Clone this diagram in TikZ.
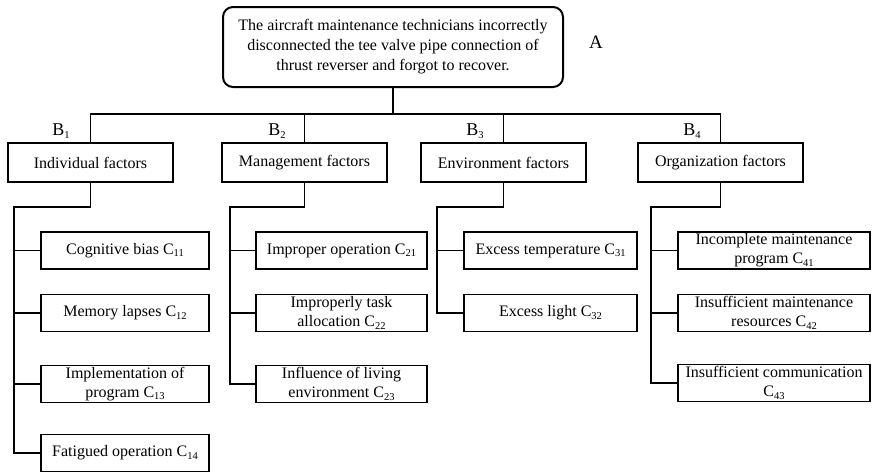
\documentclass[tikz,border=0pt]{standalone}
\usepackage{fontspec}
\setmainfont{Liberation Serif}
\newcommand{\sbs}[1]{\raisebox{-0.35ex}{\fontsize{10.5}{10.5}\selectfont #1}}
\begin{document}
\begin{tikzpicture}[x=1pt,y=-1pt,
  every node/.style={font=\fontsize{16}{19}\selectfont},
  line/.style={line width=1.3pt},
  bbox/.style={draw,line width=1.3pt,minimum width=165pt,minimum height=39pt,inner sep=0pt,align=center},
  cbox/.style={draw,line width=1.3pt,minimum height=37pt,inner sep=0pt,align=center},
  lbl/.style={inner sep=0pt,font=\fontsize{18}{20}\selectfont}]
\useasboundingbox (0,0) rectangle (872,471);
% top
\node[draw,line width=2pt,rounded corners=10pt,minimum width=340pt,minimum height=80pt,align=center,inner sep=0pt,font=\fontsize{16}{20}\selectfont] (A) at (393,47)
 {The aircraft maintenance technicians incorrectly\\disconnected the tee valve pipe connection of\\thrust reverser and forgot to recover.};
\node[lbl,font=\fontsize{19}{20}\selectfont] (Alab) at (596,42) {A};
\coordinate (bus) at (393,114);
% B level
\node[bbox] (B1) at (90.5,162.5) {Individual factors};
\node[bbox] (B2) at (304.5,162.5) {Management factors};
\node[bbox] (B3) at (503.5,162.5) {Environment factors};
\node[bbox] (B4) at (720.5,162.5) {Organization factors};
\node[lbl] (L1) at (61,131) {B\sbs{1}};
\node[lbl] (L2) at (277,131) {B\sbs{2}};
\node[lbl] (L3) at (475,131) {B\sbs{3}};
\node[lbl] (L4) at (692,131) {B\sbs{4}};
\draw[line] (A.south) -- (bus);
\draw[line] (B1.north) -- (B1.north |- bus) -| (B4.north);
\draw[line] (B2.north) -- (B2.north |- bus);
\draw[line] (B3.north) -- (B3.north |- bus);
% trunk points
\coordinate (t1) at (14,207);
\coordinate (t2) at (230,207);
\coordinate (t3) at (437,207);
\coordinate (t4) at (651,207);
% C level group 1
\node[cbox,minimum width=168pt] (C11) at (125,250.5) {Cognitive bias C\sbs{11}};
\node[cbox,minimum width=168pt] (C12) at (125,313) {Memory lapses C\sbs{12}};
\node[cbox,minimum width=168pt] (C13) at (125,384) {Implementation of\\program C\sbs{13}};
\node[cbox,minimum width=168pt] (C14) at (125,453) {Fatigued operation C\sbs{14}};
% group 2
\node[cbox,minimum width=171pt] (C21) at (341.5,250.5) {Improper operation C\sbs{21}};
\node[cbox,minimum width=171pt] (C22) at (341.5,313) {Improperly task\\allocation C\sbs{22}};
\node[cbox,minimum width=171pt] (C23) at (341.5,384) {Influence of living\\environment C\sbs{23}};
% group 3
\node[cbox,minimum width=173pt] (C31) at (550.5,250.5) {Excess temperature C\sbs{31}};
\node[cbox,minimum width=173pt] (C32) at (550.5,313) {Excess light C\sbs{32}};
% group 4
\node[cbox,minimum width=192pt] (C41) at (774,250.5) {Incomplete maintenance\\program C\sbs{41}};
\node[cbox,minimum width=192pt] (C42) at (774,313) {Insufficient maintenance\\resources C\sbs{42}};
\node[cbox,minimum width=192pt] (C43) at (774,383) {Insufficient communication\\C\sbs{43}};
% connectors
\draw[line] (B1.south) |- (t1) -- (t1 |- C14.west) -- (C14.west);
\foreach \c in {C11,C12,C13} \draw[line] (\c.west) -- (\c.west -| t1);
\draw[line] (B2.south) |- (t2) -- (t2 |- C23.west) -- (C23.west);
\foreach \c in {C21,C22} \draw[line] (\c.west) -- (\c.west -| t2);
\draw[line] (B3.south) |- (t3) -- (t3 |- C32.west) -- (C32.west);
\draw[line] (C31.west) -- (C31.west -| t3);
\draw[line] (B4.south) |- (t4) -- (t4 |- C43.west) -- (C43.west);
\foreach \c in {C41,C42} \draw[line] (\c.west) -- (\c.west -| t4);
\end{tikzpicture}
\end{document}
